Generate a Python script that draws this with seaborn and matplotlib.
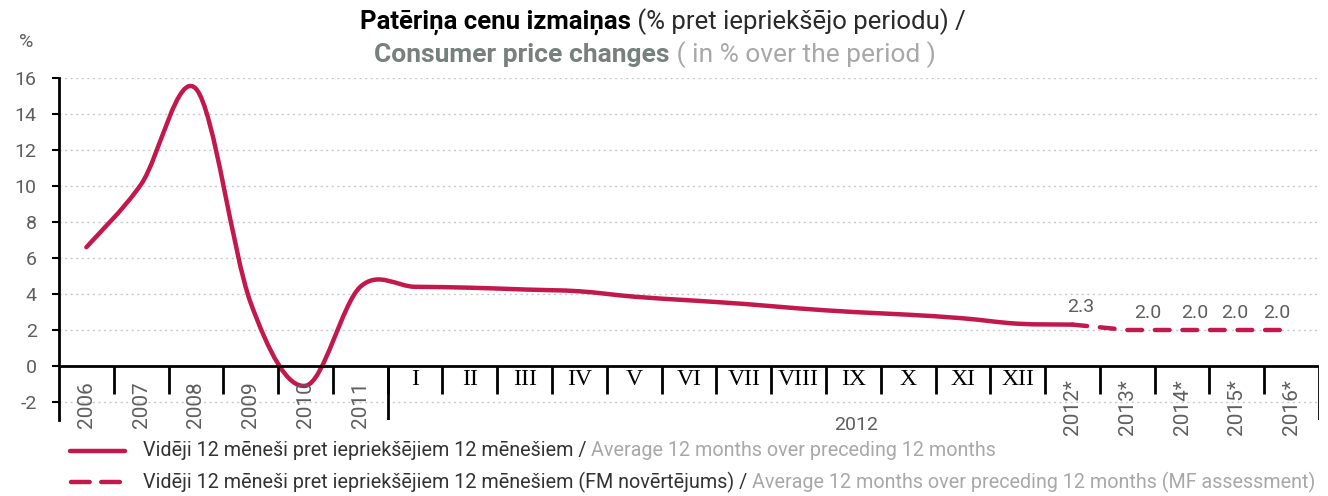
import numpy as np
import matplotlib
matplotlib.use("Agg")
import matplotlib.pyplot as plt
from matplotlib.path import Path
from matplotlib.patches import PathPatch
from matplotlib.lines import Line2D
import seaborn as sns

categories = ["2006", "2007", "2008", "2009", "2010", "2011",
              "I", "II", "III", "IV", "V", "VI", "VII", "VIII", "IX", "X", "XI", "XII",
              "2012*", "2013*", "2014*", "2015*", "2016*"]
roman = ["I", "II", "III", "IV", "V", "VI", "VII", "VIII", "IX", "X", "XI", "XII"]
actual = [6.6, 10.1, 15.4, 3.5, -1.1, 4.4,
          4.4, 4.35, 4.25, 4.15, 3.85, 3.65, 3.45, 3.2, 3.0, 2.85, 2.65, 2.35,
          2.3]
forecast = [2.3, 2.0, 2.0, 2.0, 2.0]
forecast_labels = ["2.3", "2.0", "2.0", "2.0", "2.0"]
yticks = [-2, 0, 2, 4, 6, 8, 10, 12, 14, 16]

RED = "#c2184b"
GRAY = "#5e5e5e"
DARK = "#333333"
LIGHT = "#a8a8a8"

sns.set_theme(style="white")
plt.rcParams["font.family"] = ["Roboto", "DejaVu Sans"]

fig = plt.figure(figsize=(13.28, 4.96), dpi=100)
W, H = 1328, 496
ax = fig.add_axes([59 / W, 1 - 420 / H, 1260 / W, 342 / H])
ax.set_xlim(-0.5, len(categories) - 0.5)
ax.set_ylim(-3, 16)

# grid
for y in yticks:
    ax.axhline(y, color="#c8c8c8", lw=1, ls=(0, (1.5, 2.5)), zorder=0)

# smoothed actual line (bezier through points)
xs = np.arange(len(actual), dtype=float)
P = np.column_stack([xs, actual])
verts = [tuple(P[0])]
codes = [Path.MOVETO]
n = len(P)
for i in range(n - 1):
    p_prev = P[i - 1] if i > 0 else P[i]
    p_next2 = P[i + 2] if i + 2 < n else P[i + 1]
    c1 = P[i] + (P[i + 1] - p_prev) / 6
    c2 = P[i + 1] - (p_next2 - P[i]) / 6
    verts += [tuple(c1), tuple(c2), tuple(P[i + 1])]
    codes += [Path.CURVE4] * 3
ax.add_patch(PathPatch(Path(verts, codes), fill=False, edgecolor=RED, lw=3.2,
                       capstyle="round", joinstyle="round", zorder=3))

# forecast dashed
fx = np.arange(len(actual) - 1, len(actual) - 1 + len(forecast))
sns.lineplot(x=fx, y=forecast, ax=ax, color=RED, lw=3.2, sort=False,
             linestyle=(0, (3.3, 2.9)), dash_capstyle="round", zorder=3)
offsets = [8, 20, 13, -2, -15]
for x, v, lab, dx in zip(fx, forecast, forecast_labels, offsets):
    ax.annotate(lab, (x, v), xytext=(dx * 0.72, 12.5), textcoords="offset points",
                ha="center", va="center", fontsize=14, color=GRAY)

# axes styling
for s in ["top", "right", "bottom"]:
    ax.spines[s].set_visible(False)
ax.spines["left"].set_color("black")
ax.spines["left"].set_linewidth(2)
ax.set_xticks([])
ax.set_yticks(yticks)
ax.set_yticklabels([str(t) for t in yticks], color=GRAY, fontsize=14)
ax.tick_params(axis="y", which="major", left=True, length=5, width=1.5, color="black", pad=11)
ax.set_xlabel("")
ax.set_ylabel("")

ax.axhline(0, color="black", lw=2, zorder=4)
bounds = np.arange(0.5, len(categories) - 1, 1.0)
ax.vlines(bounds, -1.55, 0, color="black", lw=2, zorder=4)
ax.vlines([5.5, len(categories) - 0.5], -3, 0, color="black", lw=2, zorder=4)

# category labels
for i, c in enumerate(categories):
    if c in roman:
        ax.text(i, -0.15, c, ha="center", va="top", fontsize=17,
                family="Liberation Serif", color="black")
    else:
        ax.text(i, -0.85 if "*" not in c else -0.75, c, ha="center", va="top",
                rotation=90, fontsize=15, color=GRAY, clip_on=False)
ax.text(14.05, -3.3, "2012", ha="center", va="center", fontsize=14, color=GRAY)

fig.text(26 / W, 1 - 42 / H, "%", ha="center", va="center", fontsize=14, color=GRAY)

renderer = fig.canvas.get_renderer()


def rich(x, y, parts, ha="center", size=14):
    texts = [fig.text(0, y, s, color=c, fontweight=w, fontsize=size, va="center")
             for s, c, w in parts]
    widths = [t.get_window_extent(renderer).width / W for t in texts]
    total = sum(widths)
    start = x - total / 2 if ha == "center" else x
    for t, w in zip(texts, widths):
        t.set_x(start)
        start += w


rich(663 / W, 1 - 22 / H, [("Patēriņa cenu izmaiņas", "black", "bold"),
                           (" (% pret iepriekšējo periodu) /", "#2a2a2a", "normal")], size=18.5)
rich(655 / W, 1 - 55 / H, [("Consumer price changes", "#76807c", "bold"),
                           (" ( in % over the period )", LIGHT, "normal")], size=19)

# legend
fig.add_artist(Line2D([70 / W, 125 / W], [1 - 451 / H] * 2, color=RED, lw=3.2,
                      solid_capstyle="round"))
fig.add_artist(Line2D([71 / W, 124 / W], [1 - 482 / H] * 2, color=RED, lw=3.2,
                      ls=(0, (4.2, 2.6)), dash_capstyle="round"))
rich(143 / W, 1 - 451 / H, [("Vidēji 12 mēneši pret iepriekšējiem 12 mēnešiem / ", DARK, "normal"),
                            ("Average 12 months over preceding 12 months", LIGHT, "normal")],
     ha="left", size=14.2)
rich(143 / W, 1 - 482 / H, [("Vidēji 12 mēneši pret iepriekšējiem 12 mēnešiem (FM novērtējums) / ", DARK, "normal"),
                            ("Average 12 months over preceding 12 months (MF assessment)", LIGHT, "normal")],
     ha="left", size=14.2)

fig.savefig("out.png", dpi=100)
